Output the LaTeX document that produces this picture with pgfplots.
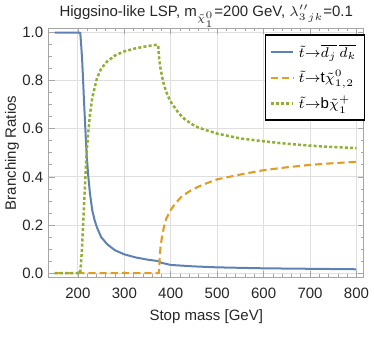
\documentclass[border=0pt]{standalone}
\usepackage{pgfplots}
\pgfplotsset{compat=1.18}
\usepackage{fontspec}
\setmainfont{Liberation Sans}
\definecolor{mblue}{HTML}{5E81B5}
\definecolor{morange}{HTML}{E19C24}
\definecolor{mgreen}{HTML}{8FB032}
\begin{document}
\fontsize{7.5}{9}\selectfont
\begin{tikzpicture}
\begin{axis}[
    scale only axis,
    width=157.5pt, height=124.5pt,
    xmin=137, xmax=816,
    ymin=-0.018, ymax=1.018,
    xtick={200,300,...,800},
    ytick={0,0.2,...,1.0},
    minor x tick num=4,
    minor y tick num=3,
    tick align=inside,
    major tick length=3pt,
    minor tick length=1.6pt,
    axis line style={gray!70},
    every tick/.style={gray!70, line width=0.4pt},
    grid=major,
    major grid style={gray!25, line width=0.5pt},
    yticklabel style={/pgf/number format/.cd, fixed, fixed zerofill, precision=1},
    xticklabel style={yshift=-2.5pt},
    /pgf/number format/assume math mode=true,
    tick label style={font=\fontsize{7.5}{9}\selectfont, text=black!85},
    label style={font=\fontsize{7.5}{9}\selectfont, text=black!85},
    xlabel={Stop mass [GeV]\rule[-12pt]{0pt}{5pt}},
    ylabel={Branching Ratios},
    xlabel style={yshift=-0.5pt},
    ylabel style={yshift=-3.5pt},
    title={Higgsino-like LSP, m$_{\tilde{\chi}^0_1}$=200 GeV, $\lambda''_{3\,jk}$=0.1},
    title style={font=\fontsize{7.5}{9}\selectfont, yshift=-8.5pt, text=black!85},
    legend cell align=left,
    legend style={at={(rel axis cs:1.004,0.976)}, anchor=north east,
        draw=black, line width=0.8pt, fill=white,
        font=\fontsize{7.5}{9}\selectfont, row sep=1.2pt,
        inner xsep=2pt, inner ysep=2.5pt},
    legend image code/.code={\draw[#1] (0cm,0cm) -- (0.4cm,0cm);},
]

% stop -> anti-d anti-d (RPV)
\addplot[mblue, line width=1pt, line join=round] coordinates {
    (150,1) (205,1) (207,0.95) (209,0.89) (211,0.81) (213,0.72) (215,0.64)
    (217,0.56) (219,0.49) (222,0.41) (226,0.33) (231,0.26) (236,0.22)
    (241,0.19) (250,0.15) (263,0.12) (280,0.095) (300,0.078) (325,0.065)
    (350,0.056) (373,0.05) (380,0.043) (400,0.034) (450,0.028) (500,0.024)
    (600,0.02) (700,0.018) (800,0.016)
};

% stop -> t neutralino
\addplot[draw=morange, line width=1.05pt, dash pattern=on 3.6pt off 2pt] coordinates {
    (150,0) (374,0) (375,0.02) (376,0.06) (378,0.11) (381,0.15) (385,0.19)
    (390,0.225) (399,0.26) (410,0.29) (424,0.32) (440,0.34) (460,0.36)
    (475,0.372) (500,0.39) (550,0.41) (600,0.428) (650,0.44) (700,0.45)
    (750,0.457) (800,0.463)
};

% stop -> b chargino
\addplot[mgreen, line width=1.25pt, dash pattern=on 1.5pt off 1.1pt] coordinates {
    (150,0) (205,0) (207,0.05) (209,0.11) (211,0.19) (213,0.28) (215,0.36)
    (217,0.44) (219,0.51) (222,0.58) (226,0.66) (231,0.73) (236,0.77)
    (241,0.81) (250,0.85) (263,0.88) (280,0.905) (300,0.922) (325,0.935)
    (350,0.944) (371,0.95) (373,0.945) (375,0.89) (378,0.85) (381,0.82)
    (385,0.785) (390,0.755) (399,0.715) (408,0.69) (417,0.665) (430,0.64)
    (453,0.61) (475,0.595) (500,0.58) (550,0.56) (600,0.548) (650,0.538)
    (700,0.53) (750,0.524) (800,0.52)
};

\legend{$\tilde{t}{\rightarrow}\overline{d_j}\,\overline{d_k}$,
        $\tilde{t}{\rightarrow}$t$\tilde{\chi}^0_{1,2}$,
        $\tilde{t}{\rightarrow}$b$\tilde{\chi}^+_1$}
\end{axis}
\end{tikzpicture}
\end{document}
